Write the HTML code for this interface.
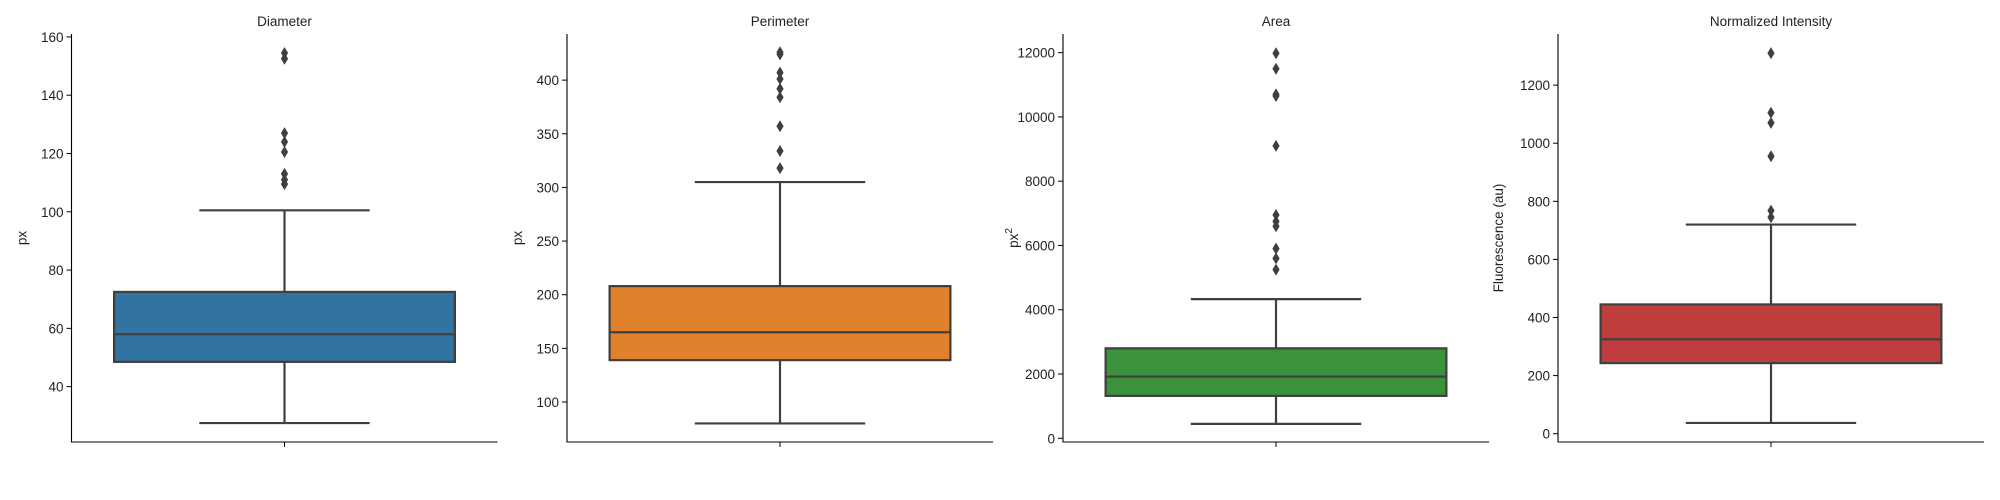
<!DOCTYPE html>
<html><head><meta charset="utf-8"><style>
html,body{margin:0;padding:0;background:#fff;}
svg{display:block;font-family:"Liberation Sans",sans-serif;}
</style></head><body>
<svg id="chart" width="2000" height="500" viewBox="0 0 2000 500" xmlns="http://www.w3.org/2000/svg"></svg>
<script>
const titles = ["Diameter","Perimeter","Area","Normalized Intensity"];
const ylabels = ["px","px","px²","Fluorescence (au)"];
const colors = ["#3274a1","#e1812c","#3a923a","#c03d3e"];
const whiskerLow = [27.5, 80, 450, 37];
const q1 = [48.5, 139, 1320, 243];
const medians = [58, 165, 1920, 325];
const q3 = [72.5, 208, 2800, 445];
const whiskerHigh = [100.5, 305, 4330, 720];
const outliers = [
  [154.5,152.5,127,124,120.5,113,111,109.5],
  [426,424,407,401,392,384,357,334,318],
  [11980,11500,10700,10650,9100,6950,6750,6600,5900,5600,5250],
  [1310,1105,1070,955,768,745]
];
const yTicks = [
  [40,60,80,100,120,140,160],
  [100,150,200,250,300,350,400],
  [0,2000,4000,6000,8000,10000,12000],
  [0,200,400,600,800,1000,1200]
];
const yMin = [21, 62.7, -115, -28.6];
const yMax = [161, 443, 12580, 1376];

const NS = "http://www.w3.org/2000/svg";
const svg = document.getElementById('chart');
function mk(tag, attrs, parent){
  const e = document.createElementNS(NS, tag);
  for (const k in attrs) e.setAttribute(k, attrs[k]);
  parent.appendChild(e); return e;
}
const lefts = [71.5, 567, 1063, 1558];
const W = 426, TOP = 34, BOT = 442;
const LC = "#3f3f3f";
for (let i=0;i<4;i++){
  const L = lefts[i];
  const g = mk('g', {}, svg);
  
  
  const y = v => BOT - (v - yMin[i]) / (yMax[i] - yMin[i]) * (BOT - TOP);
  const cx = L + W/2;
  // title
  const t = mk('text', {x:cx, y:26, 'text-anchor':'middle', 'font-size':13.5, fill:'#222'}, g);
  t.textContent = titles[i];
  
  
  // axes
  const ax = mk('path', {d:`M${L},${TOP} V${BOT} H${L+W}`, stroke:'#000', 'stroke-width':1.1, fill:'none'}, g);
  
  
  mk('line', {x1:cx, x2:cx, y1:BOT, y2:BOT+5, stroke:'#000', 'stroke-width':1}, g);
  // y ticks
  yTicks[i].forEach(v => {
    const yy = y(v);
    mk('line', {x1:L-5, x2:L, y1:yy, y2:yy, stroke:'#000', 'stroke-width':1}, g);
    const tl = mk('text', {x:L-8, y:yy+5, 'text-anchor':'end', 'font-size':13.5, fill:'#222'}, g);
    tl.textContent = v;
    
    
  });
  // y label
  const lx = i===3 ? 1503 : L - 45;
  const yl = mk('text', {x:lx, y:(TOP+BOT)/2, 'text-anchor':'middle', 'font-size':13.5, fill:'#222', transform:`rotate(-90 ${lx} ${(TOP+BOT)/2})`}, g);
  if (i===2){ yl.innerHTML = 'px<tspan dy="-6" font-size="10">2</tspan>'; }
  else yl.textContent = ylabels[i];
  
  
  // whiskers
  const bw = W*0.8, cw = bw/2;
  const wk = mk('path', {d:`M${cx},${y(whiskerLow[i])} V${y(q1[i])} M${cx},${y(q3[i])} V${y(whiskerHigh[i])} M${cx-cw/2},${y(whiskerLow[i])} H${cx+cw/2} M${cx-cw/2},${y(whiskerHigh[i])} H${cx+cw/2}`, stroke:LC, 'stroke-width':2.2, fill:'none'}, g);
  
  
  // box
  const b = mk('rect', {x:cx-bw/2, y:y(q3[i]), width:bw, height:y(q1[i])-y(q3[i]), fill:colors[i], stroke:LC, 'stroke-width':2.2}, g);
  
  
  const m = mk('line', {x1:cx-bw/2, x2:cx+bw/2, y1:y(medians[i]), y2:y(medians[i]), stroke:LC, 'stroke-width':2.2}, g);
  
  
  outliers[i].forEach(v => {
    const yy = y(v);
    const p = mk('path', {d:`M${cx},${yy-6} L${cx+3.6},${yy} L${cx},${yy+6} L${cx-3.6},${yy} Z`, fill:LC}, g);
    
    
  });
}
</script>
</body></html>
